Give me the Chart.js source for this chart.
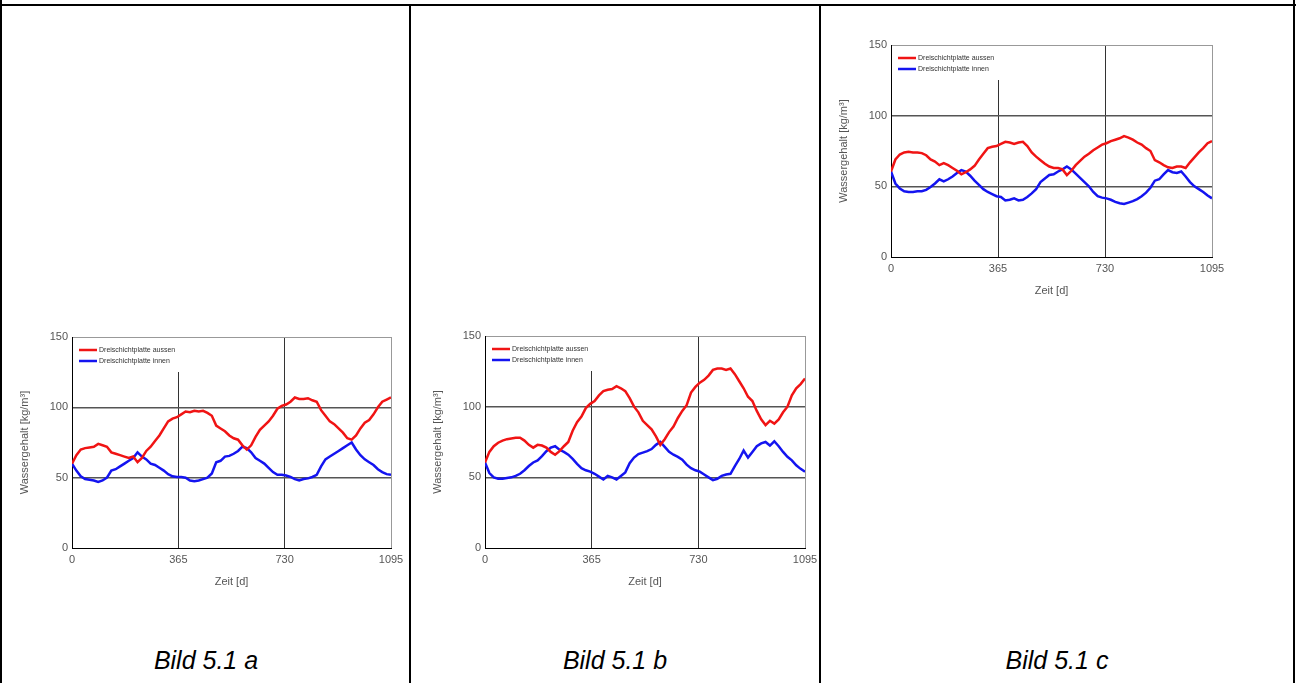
<!DOCTYPE html>
<html>
<head>
<meta charset="utf-8">
<script src="https://cdn.jsdelivr.net/npm/chart.js@4"></script>
<style>
  body { margin: 0; background: #fff; width: 1297px; height: 683px; overflow: hidden; position: relative; font-family: "Liberation Sans", Arial, sans-serif; }
  .line { position: absolute; background: #000; }
  .box { position: absolute; }
  .cap { position: absolute; top: 646px; width: 408px; text-align: center; font-style: italic; font-size: 25px; color: #000; }
</style>
</head>
<body>
<div class="line" style="left:0;top:4px;width:1296px;height:2px"></div>
<div class="line" style="left:0;top:0;width:2px;height:683px"></div>
<div class="line" style="left:409px;top:4px;width:2px;height:679px"></div>
<div class="line" style="left:819px;top:4px;width:2px;height:679px"></div>
<div class="line" style="left:1293px;top:0;width:2px;height:683px"></div>

<div class="box" style="left:10px;top:326px;width:399px;height:267px"><canvas id="chartA"></canvas></div>
<div class="box" style="left:423px;top:325px;width:396px;height:268px"><canvas id="chartB"></canvas></div>
<div class="box" style="left:829px;top:34px;width:403px;height:268px"><canvas id="chartC"></canvas></div>

<div class="cap" style="left:2px">Bild 5.1 a</div>
<div class="cap" style="left:411px">Bild 5.1 b</div>
<div class="cap" style="left:821px;width:472px">Bild 5.1 c</div>

<script>
// -------------------------------
// Données : Wassergehalt über 3 Jahre (Tag 0 bis 1095, alle 15 Tage)
// -------------------------------
const days = [];
for (let d = 0; d <= 1095; d += 15) days.push(d);

const xTicks = [0, 365, 730, 1095];
const yTicks = [0, 50, 100, 150];
const seriesNames = ['Dreischichtplatte aussen', 'Dreischichtplatte innen'];

// Bild 5.1 a
const aussenA = [60,66,70,71,71.5,72,74,73,72,68,
  67,66,65,64,65,61,64,69,72,76,
  80,85,90,92,93,95,97,96.5,97.5,97,
  97.5,96,94,87,85,83,80,78,77,73,
  70,73,79,84,87,90,94,99,101,102,
  104,107,106,106,106.5,105,104,98,94,90,
  88,85,82,78,77,80,85,89,91,95,
  100,104,105.5,107];
const innenA = [60,55,51,49,48.5,48,47,48,50,55,
  56,58,60,62,64,68,65,63,60,59,
  57,55,52.5,51,50.5,50.5,50,48,47.5,48,
  49,50,53,61,62,65,65.5,67,69,72,
  71,68,64,62,60,57,54,52,52,51.5,
  50.5,49,48,49,49.5,50.5,52,58,63,65,
  67,69,71,73,75,70,66,63,61,59,
  56,54,52.5,52];

// Bild 5.1 b
const aussenB = [60.5,68,72,74.5,76,77,77.5,78,78,76,
  73,71,73,72.5,71,68,66,68.5,72,75,
  83,89,93,99,102,104,108,111,112,112.5,
  114.5,113,111,106,100,96,90,87,84,79,
  73,77,82,86,92,97,101,110,114,117,
  119,122,126,127,127,126,127,123,118,113,
  107,104,97,91,87,90,88,91,96,100,
  108,113,116,120];
const innenB = [60.5,53,50,49,49,49.5,50,51,52.5,55,
  58,60.5,62,65,68.5,71,72,69.5,68,66,
  63,59.5,56.5,55,54,52.5,50.5,48.5,51,50,
  48.5,51,53.5,60,64,66.5,67.5,68.5,70,73,
  75,71.5,68,66,64.5,62.5,59,56.5,55,54,
  52,50,48,49,51,52,52.5,58,63,69,
  64,68,72,74,75,72.5,75.5,72,68,64.5,
  62,58.5,56,54];

// Bild 5.1 c
const aussenC = [60.5,69,72.5,74,74.5,74,74,73.5,72,69,
  67.5,65,66.5,65,63,61,58.5,60,62,64.5,
  69,73,77,78,78.5,80,81.5,81,80,81,
  81.5,78.5,74,71,68.5,66,64,63,63,62,
  58,61,65,68,71,73,75.5,77.5,79.5,80.5,
  82,83,84,85.5,84.5,83,81,79.5,77,75,
  68.5,67,65,63.5,63,64,64,63,67,70.5,
  74,77,80.5,82];
const innenC = [60.5,52,48.5,46.5,46,46,46.5,46.5,47.5,49.5,
  52,55,53.5,55,57,59.5,61.5,60.5,57.5,54,
  51,48,46,44.5,43,42.5,40,40.5,41.5,40,
  40.5,42.5,45,48,53,55.5,58,58.5,60.5,62,
  64,62,59,56,53,50,46,43,42,41.5,
  40.5,39,38,37.5,38.5,39.5,41,43,45.5,49,
  54,55,58.5,61.5,60,59.5,60.5,57,53,50,
  48,46,43.5,41.5];

const FONT = '"Liberation Sans", Arial, sans-serif';

// Légende dessinée dans la zone du graphique (fond blanc)
const legendBox = {
  id: 'legendBox',
  afterDatasetsDraw(chart) {
    const { ctx, chartArea: a } = chart;
    ctx.save();
    ctx.fillStyle = '#fff';
    ctx.fillRect(a.left + 1, a.top + 1, 118, 34);
    chart.data.datasets.forEach((ds, i) => {
      const y = a.top + 13 + i * 11;
      ctx.strokeStyle = ds.borderColor;
      ctx.lineWidth = 2.5;
      ctx.beginPath();
      ctx.moveTo(a.left + 7, y);
      ctx.lineTo(a.left + 25, y);
      ctx.stroke();
      ctx.fillStyle = '#333';
      ctx.font = '7px ' + FONT;
      ctx.textBaseline = 'middle';
      ctx.fillText(ds.label, a.left + 27, y);
    });
    ctx.restore();
  }
};

function makeChart(id, aussen, innen, padRight) {
  new Chart(document.getElementById(id), {
    type: 'line',
    data: {
      datasets: [
        { label: seriesNames[0], data: days.map((d, i) => ({ x: d, y: aussen[i] })),
          borderColor: '#f01414', borderWidth: 2.5, pointRadius: 0, tension: 0 },
        { label: seriesNames[1], data: days.map((d, i) => ({ x: d, y: innen[i] })),
          borderColor: '#1414f0', borderWidth: 2.5, pointRadius: 0, tension: 0 }
      ]
    },
    options: {
      responsive: true,
      maintainAspectRatio: false,
      animation: false,
      layout: { padding: { top: 11, right: padRight, left: 0, bottom: 0 } },
      plugins: { legend: { display: false }, tooltip: { enabled: false } },
      scales: {
        x: {
          type: 'linear', min: 0, max: 1095,
          afterBuildTicks: s => { s.ticks = xTicks.map(v => ({ value: v })); },
          afterFit: s => { s.height = 45; s.paddingLeft = 0; s.paddingRight = 0; },
          grid: {
            drawTicks: false,
            color: c => (c.tick.value === 365 || c.tick.value === 730) ? '#333' : (c.tick.value === 1095 ? '#999' : 'rgba(0,0,0,0)'),
            lineWidth: 1
          },
          border: { display: true, color: '#000', width: 1 },
          ticks: { color: '#555', font: { family: FONT, size: 11 }, padding: 5, maxRotation: 0, callback: v => String(v) },
          title: { display: true, text: 'Zeit [d]', color: '#555', font: { family: FONT, size: 11 }, padding: 4 }
        },
        y: {
          min: 0, max: 150,
          afterBuildTicks: s => { s.ticks = yTicks.map(v => ({ value: v })); },
          afterFit: s => { s.width = 62; },
          grid: {
            drawTicks: false,
            color: c => (c.tick.value === 50 || c.tick.value === 100) ? '#555' : (c.tick.value === 150 ? '#999' : 'rgba(0,0,0,0)'),
            lineWidth: c => (c.tick.value === 50 || c.tick.value === 100) ? 1.5 : 1
          },
          border: { display: true, color: '#000', width: 1 },
          ticks: { color: '#555', font: { family: FONT, size: 11 }, padding: 4, callback: v => String(v) },
          title: { display: true, text: 'Wassergehalt [kg/m³]', color: '#555', font: { family: FONT, size: 11 }, padding: { top: 8, bottom: 4 } }
        }
      }
    },
    plugins: [legendBox]
  });
}

makeChart('chartA', aussenA, innenA, 18);
makeChart('chartB', aussenB, innenB, 14);
makeChart('chartC', aussenC, innenC, 20);
</script>
</body>
</html>
